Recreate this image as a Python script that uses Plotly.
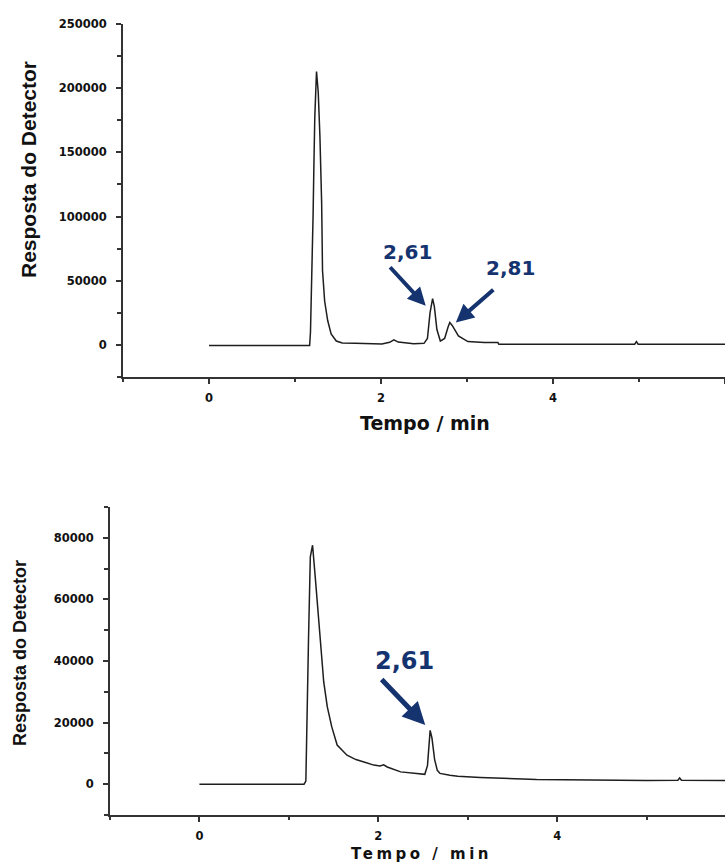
import plotly.graph_objects as go

# ---------------- data ----------------
top_time = [0, 1.17, 1.18, 1.20, 1.21, 1.22, 1.23, 1.25, 1.27, 1.29, 1.31, 1.32, 1.345,
            1.38, 1.42, 1.48, 1.55, 1.7, 1.9, 2.01, 2.10, 2.15, 2.20, 2.30, 2.38, 2.50,
            2.54, 2.57, 2.60, 2.62, 2.65, 2.69, 2.74, 2.78, 2.80, 2.83, 2.90, 3.01, 3.2,
            3.36, 3.37, 4.95, 4.97, 4.99, 6.0]
top_signal = [-500, -500, 10000, 57800, 100000, 141000, 177000, 213000, 197000, 162000,
              110000, 58000, 34000, 19000, 8600, 3000, 1500, 1200, 1300, 800, 2000, 3900,
              2200, 1300, 1000, 1200, 5000, 25000, 36000, 30000, 12000, 3000, 5000, 14000,
              17400, 15000, 7000, 2600, 1800, 1800, 500, 500, 2500, 500, 500]

bot_time = [0, 1.17, 1.19, 1.20, 1.22, 1.24, 1.265, 1.296, 1.33, 1.36, 1.39, 1.43, 1.48,
            1.54, 1.65, 1.75, 1.87, 1.95, 2.02, 2.06, 2.10, 2.25, 2.43, 2.52, 2.55, 2.58,
            2.60, 2.63, 2.66, 2.69, 2.80, 2.89, 3.14, 3.77, 5.0, 5.35, 5.37, 5.39, 6.0]
bot_signal = [0, 0, 1000, 19200, 47400, 73800, 77600, 66900, 53900, 45100, 33200, 25100,
              18600, 12700, 9400, 8000, 6800, 6200, 5900, 6300, 5600, 4000, 3500, 3200,
              6000, 17500, 15000, 8000, 4500, 3500, 2900, 2600, 2200, 1500, 1200, 1300,
              2000, 1300, 1200]

top_labels = ["2,61", "2,81"]
top_arrow_x = [2.52, 2.87]
top_arrow_y = [30500, 17500]
bot_labels = ["2,61"]
bot_arrow_x = [2.525]
bot_arrow_y = [19200]

x_title = "Tempo / min"
y_title = "Resposta do Detector"

# ---------------- figure ----------------
W, H = 725, 865
LINE = "#1e1e1e"
AX = "#333333"
NAVY = "#15336f"

fig = go.Figure()
fig.add_trace(go.Scatter(x=top_time, y=top_signal, mode="lines",
                         line=dict(color=LINE, width=1.5), xaxis="x", yaxis="y",
                         showlegend=False, hoverinfo="skip"))
fig.add_trace(go.Scatter(x=bot_time, y=bot_signal, mode="lines",
                         line=dict(color=LINE, width=1.5), xaxis="x2", yaxis="y2",
                         showlegend=False, hoverinfo="skip"))

tickfont = dict(family="DejaVu Sans", size=11.5, color="#111", weight="bold")

def xaxis(domain, rng, anchor):
    return dict(domain=domain, range=rng, anchor=anchor, showgrid=False, zeroline=False,
                showline=True, linecolor=AX, linewidth=2, ticks="outside", ticklen=5,
                tickwidth=2, tickcolor=AX, dtick=2, tick0=0, tickfont=tickfont,
                ticklabelstandoff=4, automargin=False,
                minor=dict(dtick=1, tick0=0, ticks="outside", ticklen=3, tickwidth=1.5,
                           tickcolor=AX))

def yaxis(domain, rng, anchor, dt):
    return dict(domain=domain, range=rng, anchor=anchor, showgrid=False, zeroline=False,
                showline=True, linecolor=AX, linewidth=2, ticks="outside", ticklen=5,
                tickwidth=2, tickcolor=AX, dtick=dt, tick0=0, tickfont=tickfont,
                tickformat="d", ticklabelstandoff=7, automargin=False,
                minor=dict(dtick=dt / 2, tick0=0, ticks="outside", ticklen=4, tickwidth=1.5,
                           tickcolor=AX))

fig.update_layout(
    width=W, height=H, margin=dict(l=0, r=0, t=0, b=0, pad=0),
    paper_bgcolor="white", plot_bgcolor="white",
    xaxis=xaxis([123 / W, 1], [-1, 6.0], "y"),
    yaxis=yaxis([1 - 377 / H, 1 - 24 / H], [-25000, 250000], "x", 50000),
    xaxis2=xaxis([110 / W, 1], [-1, 5.877], "y2"),
    yaxis2=yaxis([1 - 815 / H, 1 - 507 / H], [-10000, 90000], "x2", 20000),
)

ann = []
# axis titles
def title(text, px, py, size, family, angle=0):
    return dict(text=text, xref="paper", yref="paper", x=px / W, y=1 - py / H,
                xanchor="center", yanchor="middle", textangle=angle, showarrow=False,
                font=dict(family=family, size=size, color="#111", weight="bold"))

ann.append(title(y_title, 28, 170, 21, "Liberation Sans", -90))
ann.append(title(x_title, 425, 423, 19, "DejaVu Sans"))
ann.append(title(y_title, 20, 653, 18, "Liberation Sans", -90))
ann.append(title('<span style="letter-spacing:3.5px">' + x_title + '</span>', 421, 854, 15,
                 "DejaVu Sans"))

# peak labels with arrows
top_offsets = [(-37, -40), (39, -34)]
top_text_shift = [(-18, 54), (55, 54)]
for lab, ax_, ay_, (dx, dy) in zip(top_labels, top_arrow_x, top_arrow_y, top_offsets):
    ann.append(dict(x=ax_, y=ay_, xref="x", yref="y", ax=dx, ay=dy, text="",
                    showarrow=True, arrowhead=2, arrowsize=0.9, arrowwidth=4,
                    arrowcolor=NAVY))
for lab, ax_, ay_, (tx, ty) in zip(top_labels, top_arrow_x, top_arrow_y, top_text_shift):
    ann.append(dict(x=ax_, y=ay_, xref="x", yref="y", text=lab, showarrow=False,
                    xshift=tx, yshift=ty,
                    font=dict(family="DejaVu Sans", size=20, color=NAVY, weight="bold")))

for lab, ax_, ay_ in zip(bot_labels, bot_arrow_x, bot_arrow_y):
    ann.append(dict(x=ax_, y=ay_, xref="x2", yref="y2", ax=-45, ay=-47, text="",
                    showarrow=True, arrowhead=2, arrowsize=0.9, arrowwidth=5,
                    arrowcolor=NAVY))
    ann.append(dict(x=ax_, y=ay_, xref="x2", yref="y2", text=lab, showarrow=False,
                    xshift=-21, yshift=64,
                    font=dict(family="DejaVu Sans", size=24, color=NAVY, weight="bold")))

fig.update_layout(annotations=ann)
fig.write_html("out.html", config={"displayModeBar": False},
               post_script="document.body.style.margin='0';document.body.style.overflow='hidden';")
